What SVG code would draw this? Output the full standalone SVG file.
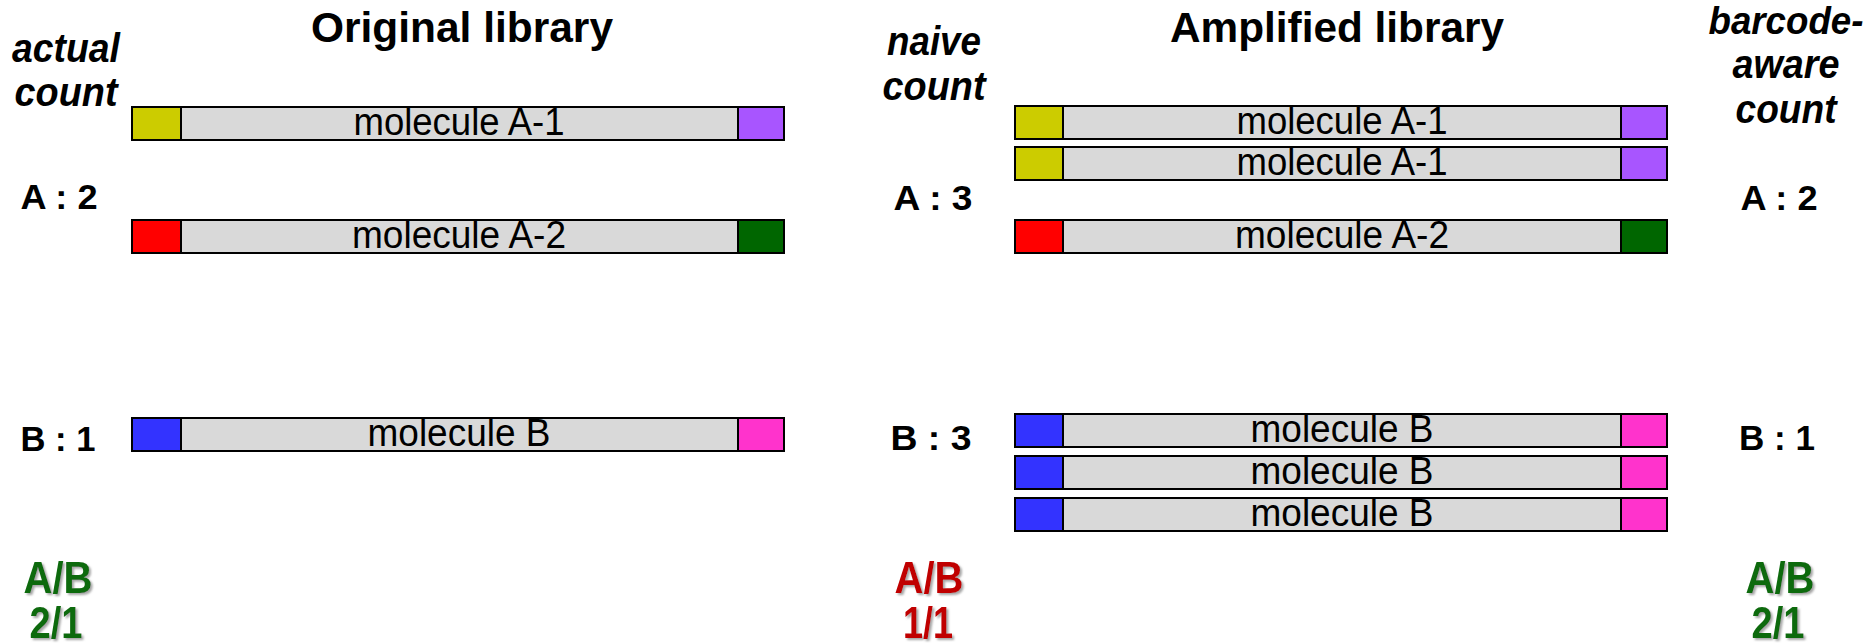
<svg xmlns="http://www.w3.org/2000/svg" width="1868" height="644" viewBox="0 0 1868 644">
<defs>
<style>
.title{font-family:"Liberation Sans",Arial,sans-serif;font-weight:bold;font-size:42px;fill:#000;text-anchor:middle}
.hdr{font-family:"Liberation Sans",Arial,sans-serif;font-weight:bold;font-style:italic;font-size:40px;fill:#000;text-anchor:middle}
.hdr2{font-size:38px}
.cnt{font-family:"Liberation Sans",Arial,sans-serif;font-weight:bold;font-size:35px;fill:#000;text-anchor:middle}
.ratio{font-family:"Liberation Sans",Arial,sans-serif;font-weight:bold;font-size:44px;text-anchor:middle;filter:url(#sh)}
.good{fill:#0F6B0F}
.bad{fill:#C00000}
.body{fill:#D9D9D9;stroke:#000;stroke-width:2}
.cap{stroke:#000;stroke-width:2}
.lbl{font-family:"Liberation Sans",Arial,sans-serif;font-size:38px;fill:#000;text-anchor:middle}
.y{fill:#CCCC00}.p{fill:#A855FF}.r{fill:#FF0000}.g{fill:#006600}.b{fill:#3333FF}.m{fill:#FF33CC}
</style>
<filter id="sh" x="-20%" y="-20%" width="150%" height="150%">
<feDropShadow dx="2" dy="2" stdDeviation="1" flood-color="#808080" flood-opacity="0.7"/>
</filter>
</defs>

<g id="titles">
<text class="title" x="462" y="42" textLength="302" lengthAdjust="spacingAndGlyphs">Original library</text>
<text class="title" x="1337" y="42" textLength="334" lengthAdjust="spacingAndGlyphs">Amplified library</text>
</g>

<g id="header-actual">
<text class="hdr" x="66" y="62" textLength="108" lengthAdjust="spacingAndGlyphs">actual</text>
<text class="hdr" x="66" y="106" textLength="103" lengthAdjust="spacingAndGlyphs">count</text>
</g>
<g id="header-naive">
<text class="hdr" x="934" y="55" textLength="94" lengthAdjust="spacingAndGlyphs">naive</text>
<text class="hdr" x="934" y="100" textLength="103" lengthAdjust="spacingAndGlyphs">count</text>
</g>
<g id="header-barcode">
<text class="hdr hdr2" x="1786" y="34" textLength="155" lengthAdjust="spacingAndGlyphs">barcode-</text>
<text class="hdr" x="1786" y="78" textLength="107" lengthAdjust="spacingAndGlyphs">aware</text>
<text class="hdr" x="1786" y="123" textLength="101" lengthAdjust="spacingAndGlyphs">count</text>
</g>

<g id="counts">
<text class="cnt" x="59" y="209" textLength="77" lengthAdjust="spacingAndGlyphs">A : 2</text>
<text class="cnt" x="58" y="451" textLength="75" lengthAdjust="spacingAndGlyphs">B : 1</text>
<text class="cnt" x="933" y="210" textLength="79" lengthAdjust="spacingAndGlyphs">A : 3</text>
<text class="cnt" x="931" y="450" textLength="81" lengthAdjust="spacingAndGlyphs">B : 3</text>
<text class="cnt" x="1779" y="210" textLength="77" lengthAdjust="spacingAndGlyphs">A : 2</text>
<text class="cnt" x="1777" y="450" textLength="76" lengthAdjust="spacingAndGlyphs">B : 1</text>
</g>

<g id="orig-A1">
<rect class="body" x="132" y="107" width="652" height="33"/>
<rect class="cap y" x="132" y="107" width="49" height="33"/>
<rect class="cap p" x="738" y="107" width="46" height="33"/>
<text class="lbl" x="459" y="135" textLength="211" lengthAdjust="spacingAndGlyphs">molecule A-1</text>
</g>
<g id="orig-A2">
<rect class="body" x="132" y="220" width="652" height="33"/>
<rect class="cap r" x="132" y="220" width="49" height="33"/>
<rect class="cap g" x="738" y="220" width="46" height="33"/>
<text class="lbl" x="459" y="248" textLength="214" lengthAdjust="spacingAndGlyphs">molecule A-2</text>
</g>
<g id="orig-B">
<rect class="body" x="132" y="418" width="652" height="33"/>
<rect class="cap b" x="132" y="418" width="49" height="33"/>
<rect class="cap m" x="738" y="418" width="46" height="33"/>
<text class="lbl" x="459" y="446" textLength="183" lengthAdjust="spacingAndGlyphs">molecule B</text>
</g>

<g id="amp-A1a">
<rect class="body" x="1015" y="106" width="652" height="33"/>
<rect class="cap y" x="1015" y="106" width="48" height="33"/>
<rect class="cap p" x="1621" y="106" width="46" height="33"/>
<text class="lbl" x="1342" y="134" textLength="211" lengthAdjust="spacingAndGlyphs">molecule A-1</text>
</g>
<g id="amp-A1b">
<rect class="body" x="1015" y="147" width="652" height="33"/>
<rect class="cap y" x="1015" y="147" width="48" height="33"/>
<rect class="cap p" x="1621" y="147" width="46" height="33"/>
<text class="lbl" x="1342" y="175" textLength="211" lengthAdjust="spacingAndGlyphs">molecule A-1</text>
</g>
<g id="amp-A2">
<rect class="body" x="1015" y="220" width="652" height="33"/>
<rect class="cap r" x="1015" y="220" width="48" height="33"/>
<rect class="cap g" x="1621" y="220" width="46" height="33"/>
<text class="lbl" x="1342" y="248" textLength="214" lengthAdjust="spacingAndGlyphs">molecule A-2</text>
</g>
<g id="amp-B1">
<rect class="body" x="1015" y="414" width="652" height="33"/>
<rect class="cap b" x="1015" y="414" width="48" height="33"/>
<rect class="cap m" x="1621" y="414" width="46" height="33"/>
<text class="lbl" x="1342" y="442" textLength="183" lengthAdjust="spacingAndGlyphs">molecule B</text>
</g>
<g id="amp-B2">
<rect class="body" x="1015" y="456" width="652" height="33"/>
<rect class="cap b" x="1015" y="456" width="48" height="33"/>
<rect class="cap m" x="1621" y="456" width="46" height="33"/>
<text class="lbl" x="1342" y="484" textLength="183" lengthAdjust="spacingAndGlyphs">molecule B</text>
</g>
<g id="amp-B3">
<rect class="body" x="1015" y="498" width="652" height="33"/>
<rect class="cap b" x="1015" y="498" width="48" height="33"/>
<rect class="cap m" x="1621" y="498" width="46" height="33"/>
<text class="lbl" x="1342" y="526" textLength="183" lengthAdjust="spacingAndGlyphs">molecule B</text>
</g>

<g id="ratio-actual">
<text class="ratio good" x="58" y="593" textLength="69" lengthAdjust="spacingAndGlyphs">A/B</text>
<text class="ratio good" x="56" y="638" textLength="53" lengthAdjust="spacingAndGlyphs">2/1</text>
</g>
<g id="ratio-naive">
<text class="ratio bad" x="929" y="593" textLength="69" lengthAdjust="spacingAndGlyphs">A/B</text>
<text class="ratio bad" x="928" y="638" textLength="50" lengthAdjust="spacingAndGlyphs">1/1</text>
</g>
<g id="ratio-barcode">
<text class="ratio good" x="1780" y="593" textLength="69" lengthAdjust="spacingAndGlyphs">A/B</text>
<text class="ratio good" x="1778" y="638" textLength="53" lengthAdjust="spacingAndGlyphs">2/1</text>
</g>

<g id="connectors"></g>
</svg>
